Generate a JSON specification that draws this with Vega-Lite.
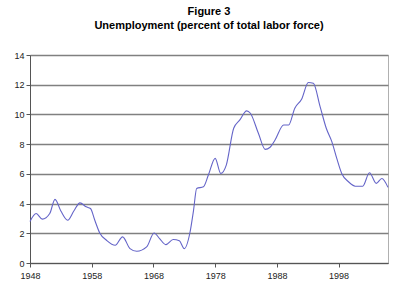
{
  "$schema": "https://vega.github.io/schema/vega-lite/v6.json",
  "autosize": "none",
  "width": 358,
  "height": 208,
  "padding": {"left": 30, "top": 55, "right": 12, "bottom": 37},
  "background": "white",
  "title": {
    "text": "Figure 3",
    "subtitle": "Unemployment (percent of total labor force)",
    "anchor": "middle",
    "font": "Liberation Sans",
    "fontSize": 11,
    "fontWeight": "bold",
    "color": "black",
    "subtitleFont": "Liberation Sans",
    "subtitleFontSize": 11,
    "subtitleFontWeight": "bold",
    "subtitleColor": "black",
    "subtitlePadding": 3,
    "offset": 20
  },
  "config": {
    "view": {"stroke": "#b0b0b0", "strokeWidth": 1},
    "axis": {
      "labelFont": "Liberation Sans",
      "labelFontSize": 9,
      "labelColor": "#222",
      "domainColor": "#555",
      "tickColor": "#555",
      "title": null
    }
  },
  "data": {
    "values": [
      {"year": 1948.0, "rate": 2.8},
      {"year": 1949.0, "rate": 3.33},
      {"year": 1950.0, "rate": 2.95},
      {"year": 1951.2, "rate": 3.33},
      {"year": 1952.05, "rate": 4.28},
      {"year": 1953.0, "rate": 3.5},
      {"year": 1954.1, "rate": 2.88},
      {"year": 1955.1, "rate": 3.5},
      {"year": 1956.1, "rate": 4.05},
      {"year": 1957.1, "rate": 3.78},
      {"year": 1957.8, "rate": 3.67},
      {"year": 1958.5, "rate": 2.88},
      {"year": 1959.3, "rate": 2.02},
      {"year": 1960.4, "rate": 1.53},
      {"year": 1961.8, "rate": 1.19},
      {"year": 1963.0, "rate": 1.76},
      {"year": 1964.2, "rate": 0.97},
      {"year": 1965.3, "rate": 0.79},
      {"year": 1966.9, "rate": 1.08},
      {"year": 1968.1, "rate": 2.02},
      {"year": 1969.0, "rate": 1.64},
      {"year": 1970.0, "rate": 1.24},
      {"year": 1971.2, "rate": 1.58},
      {"year": 1972.2, "rate": 1.49},
      {"year": 1973.0, "rate": 0.97},
      {"year": 1973.9, "rate": 2.02},
      {"year": 1974.5, "rate": 3.56},
      {"year": 1975.0, "rate": 5.02},
      {"year": 1976.1, "rate": 5.13},
      {"year": 1976.9, "rate": 5.92},
      {"year": 1978.0, "rate": 7.04},
      {"year": 1978.9, "rate": 6.03},
      {"year": 1979.8, "rate": 6.59},
      {"year": 1981.0, "rate": 9.07},
      {"year": 1982.0, "rate": 9.63},
      {"year": 1983.1, "rate": 10.24},
      {"year": 1983.7, "rate": 10.08},
      {"year": 1985.0, "rate": 8.73},
      {"year": 1986.1, "rate": 7.65},
      {"year": 1986.9, "rate": 7.79},
      {"year": 1987.7, "rate": 8.28},
      {"year": 1989.1, "rate": 9.29},
      {"year": 1989.9, "rate": 9.29},
      {"year": 1990.9, "rate": 10.42},
      {"year": 1992.0, "rate": 11.02},
      {"year": 1993.1, "rate": 12.15},
      {"year": 1993.9, "rate": 12.1},
      {"year": 1995.0, "rate": 10.53},
      {"year": 1996.0, "rate": 9.07},
      {"year": 1996.9, "rate": 8.17},
      {"year": 1997.7, "rate": 7.04},
      {"year": 1998.5, "rate": 6.03},
      {"year": 1999.6, "rate": 5.47},
      {"year": 2000.7, "rate": 5.17},
      {"year": 2001.9, "rate": 5.17},
      {"year": 2003.0, "rate": 6.07},
      {"year": 2004.1, "rate": 5.36},
      {"year": 2005.0, "rate": 5.69},
      {"year": 2006.0, "rate": 5.09}
    ]
  },
  "mark": {"type": "line", "interpolate": "monotone", "color": "#6464c8", "strokeWidth": 1.1},
  "encoding": {
    "x": {
      "field": "year",
      "type": "quantitative",
      "scale": {"domain": [1948, 2006], "nice": false, "zero": false},
      "axis": {
        "values": [1948, 1958, 1968, 1978, 1988, 1998],
        "format": "d",
        "grid": false,
        "labelFlush": false,
        "tickSize": 4,
        "labelPadding": 4,
        "domainWidth": 1
      }
    },
    "y": {
      "field": "rate",
      "type": "quantitative",
      "scale": {"domain": [0, 14], "nice": false},
      "axis": {
        "values": [0, 2, 4, 6, 8, 10, 12, 14],
        "grid": true,
        "gridColor": "#808080",
        "gridWidth": 1.5,
        "gridOpacity": 1,
        "labelFlush": false,
        "tickSize": 4,
        "labelPadding": 2,
        "domainWidth": 1
      }
    }
  }
}
